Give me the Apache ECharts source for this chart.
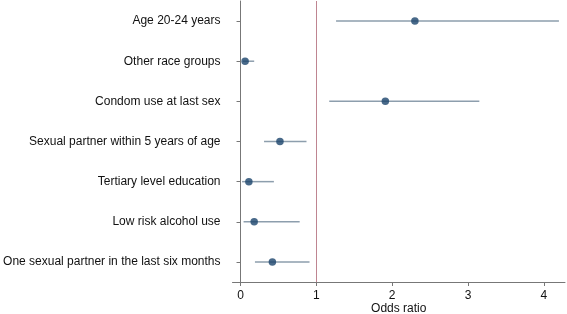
<!DOCTYPE html>
<html><head><meta charset="utf-8">
<script src="https://cdn.jsdelivr.net/npm/echarts@6/dist/echarts.min.js"></script>
<style>html,body{margin:0;padding:0;background:#fff}#c{width:567px;height:314px}</style>
</head><body><div id="c"></div>
<script>
const categories = ["Age 20-24 years","Other race groups","Condom use at last sex","Sexual partner within 5 years of age","Tertiary level education","Low risk alcohol use","One sexual partner in the last six months"];
const oddsRatio = [2.30, 0.06, 1.91, 0.52, 0.11, 0.18, 0.42];
const ciLow = [1.26, 0.03, 1.17, 0.31, 0.02, 0.04, 0.19];
const ciHigh = [4.20, 0.18, 3.15, 0.87, 0.44, 0.78, 0.91];
const xTicks = [0, 1, 2, 3, 4];
const refLine = 1;

const chart = echarts.init(document.getElementById('c'), null, {renderer:'canvas'});
const font = '"Liberation Sans", Arial, sans-serif';
chart.setOption({
  animation: false,
  backgroundColor: '#fff',
  grid: {left: 232.5, right: 2, top: 1, bottom: 32, containLabel: false, outerBoundsMode: 'none'},
  xAxis: {
    type: 'value', min: -0.106, max: 4.28,
    name: 'Odds ratio', nameLocation: 'middle', nameGap: 21, nameMoveOverlap: false,
    nameTextStyle: {fontFamily: font, fontSize: 12, color: '#111'},
    axisLine: {show: true, lineStyle: {color: '#777', width: 1}},
    axisTick: {show: true, length: 4, customValues: xTicks, lineStyle: {color: '#777'}},
    axisLabel: {customValues: xTicks, margin: 8, fontFamily: font, fontSize: 12, color: '#111'},
    splitLine: {show: false}
  },
  yAxis: {
    type: 'category', data: categories, inverse: true,
    axisLine: {show: true, lineStyle: {color: '#777', width: 1}},
    axisTick: {show: true, alignWithLabel: true, length: 4, lineStyle: {color: '#777'}},
    axisLabel: {margin: 12, fontFamily: font, fontSize: 12, color: '#111'},
    splitLine: {show: false}
  },
  series: [
    {
      type: 'custom',
      data: categories.map((c, i) => [ciLow[i], ciHigh[i], i]),
      renderItem: function (params, api) {
        const a = api.coord([api.value(0), api.value(2)]);
        const b = api.coord([api.value(1), api.value(2)]);
        return {type: 'line', shape: {x1: a[0], y1: a[1], x2: b[0], y2: b[1]},
          style: {stroke: '#8d9ead', lineWidth: 1.5}};
      },
      markLine: {
        silent: true, symbol: 'none', label: {show: false},
        lineStyle: {color: '#bf8591', width: 1, type: 'solid'},
        data: [{xAxis: refLine}]
      },
      z: 2
    },
    {
      type: 'scatter',
      data: categories.map((c, i) => [oddsRatio[i], i]),
      symbol: 'circle', symbolSize: 7.5,
      itemStyle: {color: '#1a436b'},
      z: 3
    }
  ]
});
</script></body></html>
